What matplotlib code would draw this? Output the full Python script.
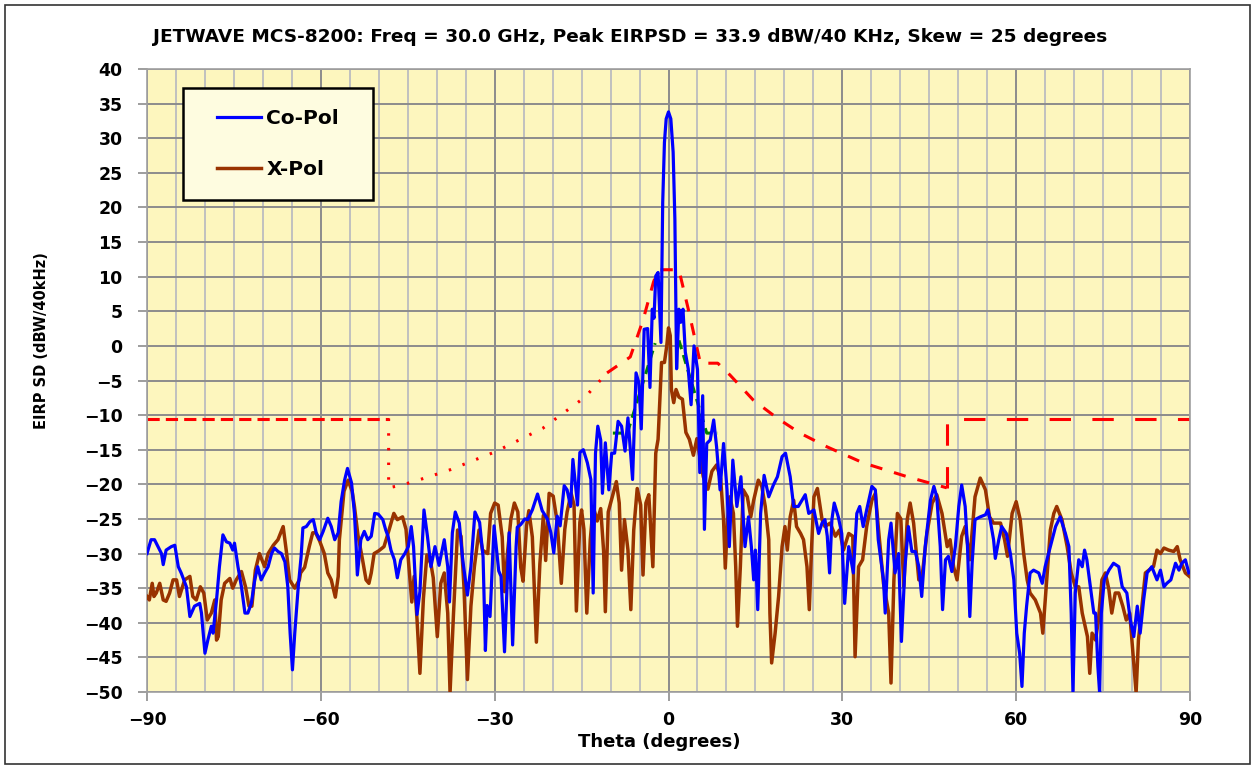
import matplotlib
matplotlib.use("Agg")
import matplotlib.pyplot as plt
import numpy as np
from matplotlib.patches import Rectangle

## Data

# Co-Pol trace (theta deg, EIRP SD dBW/40kHz)
co_theta = [-90, -89.3, -88.7, -88.1, -87.5, -87.2, -86.7, -85.8, -85.2, -84.6, -84.1, -83.2, -82.6, -81.8,
            -80.9, -80.6, -80, -79.5, -78.9, -78.6, -78, -77.5, -76.9, -76.3, -75.7, -75.2, -74.9, -74.3,
            -73.7, -73.1, -72.6, -72, -71.4, -70.9, -70.3, -69.7, -69.1, -68.5, -68, -67.4, -66.8, -66.2,
            -65.7, -65.3, -64.9, -64.5, -63.9, -63.4, -63.1, -62.5, -61.9, -61.3, -60.8, -60.2, -59.6,
            -58.8, -58.2, -57.6, -57, -56.5, -55.9, -55.4, -54.7, -54.2, -53.9, -53.7, -53.1, -52.5, -51.9,
            -51.3, -50.7, -50.1, -49.3, -48.8, -48.4, -47.9, -47.3, -46.8, -46.2, -45.5, -44.9, -44.4, -44.0,
            -43.4, -42.9, -42.2, -41.6, -41.0, -40.3, -39.6, -38.7, -38.1, -37.8, -37.3, -36.8, -36.1, -35.5,
            -34.7, -34.1, -33.4, -32.6, -32.0, -31.6, -31.3, -30.8, -30.1, -29.3, -28.9, -28.3, -27.5, -26.9,
            -26.3, -26.1, -25.5, -24.8, -24.3, -23.5, -22.6, -21.8, -20.9, -20.3, -19.8, -19.2, -18.7, -18.0,
            -17.5, -16.9, -16.5, -15.7, -15.3, -14.7, -14.0, -13.4, -13.0, -12.6, -12.2, -11.7, -11.4, -10.9,
            -10.3, -9.8, -9.3, -8.7, -8.1, -7.5, -7.0, -6.2, -5.6, -5.1, -4.7, -4.2, -3.6, -3.2, -2.8, -2.5,
            -2.2, -1.8, -1.3, -1.0, -0.7, -0.4, 0.0, 0.4, 0.8, 1.1, 1.4, 1.8, 2.1, 2.5, 2.9, 3.4, 3.9, 4.4,
            5.0, 5.4, 5.9, 6.2, 6.6, 7.2, 7.8, 8.3, 8.9, 9.5, 10.1, 10.5, 11.1, 11.8, 12.5, 13.2, 13.8, 14.3,
            14.7, 15.0, 15.4, 15.9, 16.5, 17.3, 18.1, 18.8, 19.6, 20.2, 21.0, 21.6, 22.4, 23.6, 24.2, 25.1,
            25.9, 26.5, 27.0, 27.4, 27.8, 28.2, 28.6, 29.3, 29.9, 30.4, 31.1, 31.9, 32.5, 33.0, 33.6, 34.2,
            35.1, 35.7, 36.2, 37.1, 37.4, 38.0, 38.4, 39.1, 39.7, 40.2, 40.8, 41.4, 42.0, 42.6, 43.2, 43.7,
            44.3, 45.2, 45.8, 46.3, 46.9, 47.3, 47.8, 48.3, 48.9, 49.5, 50.1, 50.6, 51.2, 51.6, 52.0, 52.4,
            52.9, 53.8, 54.7, 55.1, 55.5, 56.1, 56.4, 57.0, 57.5, 58.3, 59.0, 59.6, 60.1, 60.6, 61.0, 61.4,
            61.8, 62.4, 63.0, 63.9, 64.5, 65.0, 65.9, 66.8, 67.6, 68.5, 69.1, 69.5, 69.8, 70.2, 70.8, 71.4,
            71.8, 72.2, 72.8, 73.4, 73.7, 74.1, 74.4, 74.7, 75.2, 76.0, 76.8, 77.7, 78.3, 79.1, 79.7, 80.3,
            80.9, 81.4, 82.0, 82.6, 83.4, 84.3, 84.9, 85.5, 86.0, 86.7, 87.5, 88.1, 88.6, 89.2, 89.8]
co_eirp = [-30, -28, -28, -29, -30, -31.6, -29.5, -29, -28.8, -31.9, -32.8, -34.8, -39.1, -37.6,
           -37.2, -38.6, -44.4, -42.5, -40.5, -41.5, -36.7, -31.9, -27.3, -28.3, -28.5, -29.5, -28.5, -31.9,
           -34.8, -38.6, -38.6, -37.2, -33.8, -31.9, -33.8, -32.8, -31.9, -30, -29.2, -29.7, -30, -31.2,
           -34.8, -41.5, -46.8, -41.5, -34.8, -30.4, -26.3, -26.1, -25.4, -25.1, -27, -28, -26.8,
           -24.9, -26.1, -28, -27, -22.5, -19.4, -17.7, -19.8, -24.2, -29, -33.1, -28, -26.8, -28,
           -27.5, -24.2, -24.3, -25.1, -26.6, -27.5, -29.5, -30.9, -33.5, -30.9, -30, -29, -26.1, -29,
           -38.8, -35.5, -23.7, -27.5, -31.9, -29, -31.7, -28, -31.9, -37, -27, -24, -25.6, -31,
           -36, -31.9, -24, -25.5, -30.5, -44, -37.5, -39.1, -26, -32.5, -33.3, -44.2, -27, -43.2,
           -29, -26.2, -25.8, -25, -25.1, -23.7, -21.4, -23.8, -25, -27, -29.9, -24.6, -26, -20.2,
           -20.8, -23.2, -16.4, -23, -15.4, -15, -16.9, -19.3, -35.7, -15.5, -11.6, -13.6, -21.3, -14,
           -20.8, -15.5, -15.5, -10.9, -11.6, -15.2, -10.4, -19.3, -3.9, -5.4, -12, 2.4, 2.5, -6, 5.3, 4,
           10.1, 10.6, 0.5, 20.7, 29.4, 32.8, 33.8, 32.8, 28, 18.3, -3.3, 5.3, 3.4, 5.3, -0.9, -3.3, -8.5, 0,
           -3.4, -18.3, -7.2, -26.5, -14.1, -13.6, -10.7, -14.6, -20.8, -14.1, -20.8, -29, -16.5, -23.2, -18.9, -29, -24.7, -29,
           -33.8, -29.5, -38.1, -24.2, -18.7, -21.8, -20.1, -18.9, -16, -15.5, -18.9, -23.2, -23.2, -21.5, -24.2, -23.7,
           -27.1, -25.6, -25.1, -27.5, -32.8, -25.1, -22.7, -24.7, -27.1, -37.2, -29, -32.8, -24.2, -23.2, -26.1, -23.7,
           -20.3, -20.8, -28, -33.8, -38.6, -28, -25.6, -32.8, -30, -42.7, -32, -26.1, -29.7, -29.7, -31.9, -36.2,
           -29, -22.3, -20.3, -21.8, -29, -38.1, -30.9, -30.4, -32.6, -29, -23.2, -20.1, -23.2, -29, -39.1, -31.4,
           -25.1, -24.7, -24.4, -23.7, -25.1, -28, -30.7, -28, -26.1, -27.1, -30, -33.8, -41.5, -44.4, -49.2, -41.5,
           -37.6, -32.8, -32.4, -32.8, -34.3, -31.9, -29, -26.1, -24.7, -27.1, -29, -38.6, -50.1, -35.7, -30.9, -31.9,
           -29.5, -30.9, -34.8, -38.6, -38.6, -46.3, -50.1, -38.6, -33.8, -32.4, -31.4, -31.9, -34.8, -35.7, -39.6, -42,
           -37.6, -41.5, -36.7, -32.8, -31.9, -33.8, -32.4, -34.8, -34.3, -33.8, -31.4, -32.4, -31.4, -30.9, -32.8]

# X-Pol trace
x_theta = [-90, -89.6, -89.1, -88.8, -88.4, -87.8, -87.2, -86.7, -86.1, -85.5, -84.9, -84.4, -83.5, -82.6,
           -82.1, -81.5, -80.8, -80.2, -79.6, -78.9, -78.3, -78.0, -77.7, -77.2, -76.6, -75.7, -75.2, -74.6,
           -73.7, -73.0, -72.4, -71.9, -71.3, -70.6, -69.7, -69.1, -68.2, -67.4, -66.5, -65.9, -65.4, -64.5,
           -63.7, -63.5, -62.8, -62.0, -61.4, -60.9, -60.2, -59.4, -58.8, -58.2, -57.5, -57.0, -56.8, -56.0,
           -55.3, -54.6, -54.2, -53.6, -52.8, -52.2, -51.7, -51.3, -50.8, -50.0, -49.1, -48.3, -47.4, -46.8,
           -45.9, -45.3, -44.8, -44.3, -43.9, -43.4, -42.9, -42.3, -41.7, -41.0, -40.6, -39.9, -39.3, -38.7,
           -38.1, -37.7, -37.1, -36.4, -35.8, -35.3, -34.7, -34.1, -33.5, -32.7, -32.1, -31.2, -30.7, -30.0,
           -29.4, -28.7, -28.3, -27.8, -27.2, -26.6, -26.0, -25.5, -25.1, -24.5, -24.1, -23.5, -22.8, -22.2,
           -21.6, -21.2, -20.6, -19.9, -19.2, -18.5, -17.9, -17.5, -16.8, -16.3, -15.9, -15.3, -15.0, -14.6,
           -14.1, -13.5, -13.0, -12.3, -11.7, -11.2, -10.9, -10.4, -9.7, -9.0, -8.5, -8.1, -7.6, -7.0, -6.5,
           -6.0, -5.4, -4.8, -4.4, -3.9, -3.4, -2.7, -2.2, -1.8, -1.5, -1.2, -0.7, -0.3, 0.0, 0.3, 0.5, 0.9,
           1.3, 1.8, 2.4, 3.0, 3.6, 4.3, 4.9, 5.5, 6.0, 6.8, 7.5, 8.3, 9.0, 9.5, 9.8, 10.2, 10.6, 11.2, 11.6,
           11.9, 12.4, 12.9, 13.6, 14.2, 14.7, 15.5, 16.1, 16.7, 17.3, 17.5, 17.8, 18.4, 19.0, 19.6, 20.1,
           20.5, 21.0, 21.6, 22.1, 22.8, 23.3, 23.9, 24.3, 24.7, 25.1, 25.7, 26.5, 27.0, 27.9, 28.8, 29.5,
           30.2, 31.1, 31.8, 32.2, 32.8, 33.5, 34.2, 35.1, 35.7, 36.2, 37.1, 38.0, 38.4, 38.9, 39.5, 40.1,
           40.6, 41.2, 41.7, 42.3, 43.2, 43.7, 44.6, 45.5, 46.3, 47.2, 48.1, 48.6, 49.2, 49.8, 50.6, 51.2,
           52.0, 52.9, 53.8, 54.7, 55.4, 56.1, 57.3, 58.0, 58.5, 59.3, 60.0, 60.7, 61.3, 61.9, 62.4, 63.3,
           64.2, 64.6, 65.1, 65.9, 66.5, 67.0, 67.9, 68.8, 69.5, 70.2, 70.8, 71.4, 71.9, 72.3, 72.7, 73.1,
           73.7, 74.2, 74.8, 75.4, 76.0, 76.5, 77.1, 77.7, 78.4, 79.0, 79.6, 80.3, 80.7, 81.1, 81.7, 82.3,
           82.9, 83.7, 84.3, 84.9, 85.5, 86.3, 87.2, 87.8, 88.3, 89.2, 89.9]
x_eirp = [-36.2, -36.7, -34.3, -36.2, -35.7, -34.3, -36.7, -36.9, -35.7, -33.8, -33.8, -36.2, -33.8, -33.3,
          -36.2, -36.7, -34.8, -35.7, -39.6, -38.6, -36.7, -42.5, -42, -36.7, -34.3, -33.6, -35, -33.8,
          -32.6, -34.8, -37.6, -37.6, -32.4, -30, -31.9, -30, -28.8, -28, -26.1, -30, -33.8, -35,
          -33.8, -32.8, -32, -29, -27, -27, -28.2, -30, -32.8, -33.8, -36.3, -33.3, -28, -21,
          -19.4, -21, -23.2, -27.3, -30.9, -33.8, -34.3, -32.8, -30, -29.6, -29, -26.8, -24.2, -25.1,
          -24.7, -26.5, -31.9, -37, -33.3, -39.5, -47.3, -36.5, -30.2, -31.5, -33.5, -42, -34.3, -32.8,
          -38.6, -50.1, -38.6, -26.6, -27.5, -34.8, -48.2, -37.6, -31.9, -26.6, -29.5, -30, -24.2, -22.7,
          -23, -27.6, -35.5, -30, -25, -22.7, -24, -32, -34, -26, -23.8, -27.6, -42.8, -31.5,
          -24.5, -31, -21.3, -21.7, -25.5, -34.3, -26.5, -24, -21.3, -23, -38.3, -25.5, -23.7, -26.5,
          -38.6, -28, -23.2, -25.3, -23.5, -29.6, -38.4, -24, -21.8, -19.6, -22.7, -32.4, -25.1, -29.5, -38.1,
          -26.6, -20.6, -23, -33.1, -22.7, -21.5, -31.9, -15.5, -13.5, -8, -2.4, -2.4, 0, 2.6, 1.5, -6.3, -8.2,
          -6.3, -7.4, -7.7, -12.5, -13.5, -15.8, -13.4, -16.5, -18.9, -20.7, -18.1, -17.2, -19.2, -25.1, -32.1, -25.1, -21.8, -24.2, -31.9,
          -40.5, -31.9, -20.8, -21.8, -24.7, -22.3, -19.4, -20.3, -23.2, -28, -38.6, -45.8, -41.5, -36.2, -29, -26.1,
          -29.5, -24.7, -22.3, -26.1, -27.1, -28, -31.9, -38.1, -29, -21.8, -20.6, -25.1, -26.1, -25.6, -27.5, -26.6,
          -29.5, -27.1, -27.5, -44.9, -31.9, -30.9, -26.1, -22.3, -21.3, -26.1, -34.3, -38.6, -48.7, -33.8, -24.2, -25,
          -34.8, -25.1, -22.7, -25.6, -33.8, -33.8, -27.1, -22.7, -21.5, -24.2, -29, -28, -31.9, -33.8, -27.5, -26.1,
          -30.9, -21.8, -19.1, -20.8, -24.7, -25.6, -25.6, -28, -30.4, -24.2, -22.5, -25.1, -30, -33.8, -35.7, -36.7,
          -38.6, -41.5, -35.7, -26.6, -24.2, -23.2, -25.1, -29, -32.8, -34.8, -34.8, -38.6, -40.5, -42, -47.3, -41.5,
          -42.5, -39.6, -33.8, -32.8, -35.2, -38.6, -35.7, -35.7, -37.6, -39.6, -38.6, -45.8, -50.1, -42.5, -37.6, -32.8,
          -32.4, -31.9, -29.5, -30, -29.2, -29.5, -29.7, -29, -30.9, -32.8, -33.3]

# Red mask (left horizontal, left dotted slope, centre, right side)
mask_lh_theta = [-90, -48.3]
mask_lh_eirp = [-10.5, -10.5]
mask_ld_theta = [-48.3, -48.3, -46, -41.7, -37.7, -29.9, -21.7, -14.4, -10.6]
mask_ld_eirp = [-10.5, -20.5, -20.1, -19, -17.9, -15.3, -11.9, -7.4, -3.9]
mask_c_theta = [-10.6, -6.6, -4.4, -2.6, -1.8, 1.8, 3.5, 5.5, 8.5, 10.6, 14.6, 18.7, 22.7, 27.4, 33.6, 41.2, 48]
mask_c_eirp = [-3.9, -1.6, 3.7, 9.2, 11, 11, 5, -2.5, -2.5, -4.2, -7.8, -10.4, -12.6, -14.6, -16.9, -18.9, -20.5]
mask_r_theta = [48, 48, 90]
mask_r_eirp = [-20.5, -10.5, -10.5]

# Green envelope
env_theta = [-9.6, -7.1, -2.3, np.nan, 1.8, 6.6, 8.4]
env_eirp = [-12.6, -12.6, 0.4, np.nan, 0.8, -12.6, -12.6]

## Figure
fig = plt.figure(figsize=(12.55, 7.69), dpi=100)
ax = fig.add_axes([147 / 1255, 77 / 769, 1043 / 1255, 623 / 769])
ax.set_facecolor('#FDF6BE')

ax.set_xlim(-90, 90)
ax.set_ylim(-50, 40)
ax.set_xticks(np.arange(-90, 91, 30))
ax.set_xticks(np.arange(-90, 91, 5), minor=True)
ax.set_yticks(np.arange(-50, 41, 5))
ax.grid(which='minor', axis='x', color='#C0C0C0', lw=1.4)
ax.grid(which='major', axis='x', color='#8C8C8C', lw=1.4)
ax.grid(which='major', axis='y', color='#8C8C8C', lw=1.4)
ax.set_axisbelow(True)
ax.tick_params(which='minor', length=0)
ax.tick_params(which='major', direction='out', length=6.5, width=1.2, color='#8C8C8C', labelsize=12.5)
ax.tick_params(axis='y', pad=11)
ax.tick_params(axis='x', pad=7)
for lab in ax.get_xticklabels() + ax.get_yticklabels():
    lab.set_fontweight('bold')
for sp in ax.spines.values():
    sp.set_color('#A0A0A0')
    sp.set_linewidth(1.2)

# mask and envelope
ax.plot(mask_lh_theta, mask_lh_eirp, color='red', lw=2.2, dashes=(4, 2))
ax.plot(mask_ld_theta, mask_ld_eirp, color='red', lw=2.2, dashes=(0.8, 4))
ax.plot(mask_c_theta, mask_c_eirp, color='red', lw=2.2, dashes=(4, 4))
ax.plot(mask_r_theta, mask_r_eirp, color='red', lw=2.2, dashes=(7, 7))
ax.plot(env_theta, env_eirp, color='#008000', lw=2.2, dashes=(3, 2))

ax.plot(co_theta, co_eirp, color='#0000FF', lw=2.3, label='Co-Pol', zorder=4)
ax.plot(x_theta, x_eirp, color='#993300', lw=2.5, label='X-Pol', zorder=3)

# legend box drawn separately, legend entries placed inside it
ax.add_patch(Rectangle((0.0345, 0.7897), 0.1822, 0.1798, transform=ax.transAxes,
                       facecolor='#FEFCE0', edgecolor='black', lw=1.8, zorder=5))
leg = ax.legend(loc='center left', bbox_to_anchor=(0.0671, 0.8797), frameon=False,
                prop={'weight': 'bold', 'size': 14.5}, handlelength=2.2, handletextpad=0.25,
                labelspacing=1.55, borderpad=0, borderaxespad=0)
leg.set_zorder(6)

fig.text(0.502, 1 - 37 / 769, 'JETWAVE MCS-8200: Freq = 30.0 GHz, Peak EIRPSD = 33.9 dBW/40 KHz, Skew = 25 degrees',
         ha='center', va='center', fontsize=13.3, fontweight='bold')
fig.text(659 / 1255, 1 - 742 / 769, 'Theta (degrees)', ha='center', va='center',
         fontsize=13, fontweight='bold')
fig.text(42 / 1255, 1 - 341 / 769, 'EIRP SD (dBW/40kHz)', rotation=90, ha='center', va='center',
         fontsize=10.5, fontweight='bold')

fig.patches.append(Rectangle((0.004, 0.006), 0.992, 0.988, transform=fig.transFigure,
                             fill=False, lw=1.2, ec='#333333'))

fig.savefig('out.png', dpi=100)
